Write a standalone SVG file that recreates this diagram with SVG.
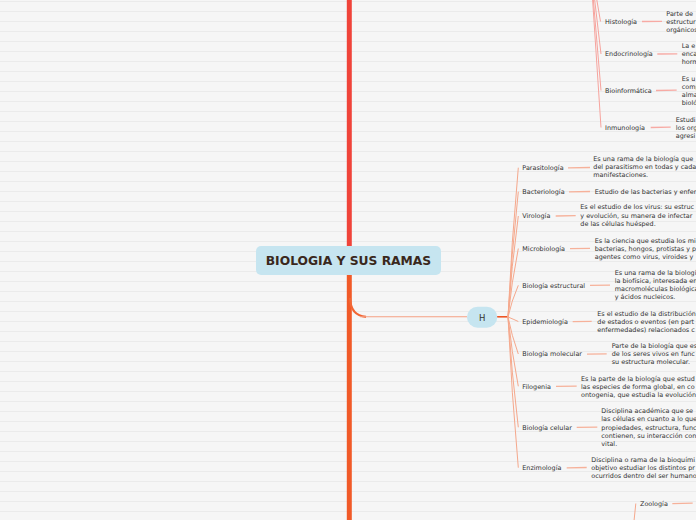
<svg xmlns="http://www.w3.org/2000/svg" width="696" height="520" viewBox="0 0 696 520">
<defs>
<pattern id="grid" x="0" y="1" width="696" height="10" patternUnits="userSpaceOnUse">
<rect x="0" y="0" width="696" height="1" fill="#ebebeb"/>
</pattern>
</defs>
<style>
.t{font-family:"DejaVu Sans",Verdana,sans-serif;font-size:6.45px;fill:#333333}
.root{font-family:"DejaVu Sans",Verdana,sans-serif;font-size:12.3px;font-weight:bold;fill:#3a281c}
.fanr{fill:none;stroke:#f6a39d;stroke-width:1}
.fano{fill:none;stroke:#f5a88c;stroke-width:1}
.lr{fill:none;stroke:#f7aaa4;stroke-width:1.3}
.lo{fill:none;stroke:#f6b19a;stroke-width:1.3}
</style>
<rect width="696" height="520" fill="#f6f6f6"/>
<rect width="696" height="520" fill="url(#grid)"/>
<g id="connectors">
<line x1="349.3" y1="0" x2="349.3" y2="262" stroke="#f0443a" stroke-width="5"/>
<line x1="349.3" y1="262" x2="349.3" y2="520" stroke="#f15a28" stroke-width="5"/>
<path d="M350,298 Q350.5,315.5 366,316.8" fill="none" stroke="#f26634" stroke-width="2.2"/>
<path d="M360,316.8 L467,316.8" fill="none" stroke="#f5a083" stroke-width="1.1"/>
<line x1="497" y1="316.8" x2="508.5" y2="316.8" stroke="#ee5524" stroke-width="1.6"/>
<path class="fanr" d="M590,-40 L600.5,21.5"/>
<path class="fanr" d="M590,-40 L601,54"/>
<path class="fanr" d="M590,-40 L601,90.5"/>
<path class="fanr" d="M590,-40 L601,127.5"/>
<path class="fano" d="M508,317 Q511.5,242 518.3,167.7"/>
<path class="fano" d="M508,317 Q511.5,254 518.3,191.7"/>
<path class="fano" d="M508,317 Q511.5,266 518.3,216"/>
<path class="fano" d="M508,317 Q511.5,283 518.3,248.5"/>
<path class="fano" d="M508,317 Q511.5,301 518.3,285.3"/>
<path class="fano" d="M508,317 Q513,319 518.3,321.5"/>
<path class="fano" d="M508,317 Q511.5,335 518.3,354"/>
<path class="fano" d="M508,317 Q511.5,351 518.3,386.3"/>
<path class="fano" d="M508,317 Q511.5,372 518.3,427.3"/>
<path class="fano" d="M508,317 Q511.5,392 518.3,467.7"/>
<path class="fano" d="M633.5,526 L635.8,503.5"/>
<line class="lr" x1="642" y1="21.5" x2="662" y2="21.3"/>
<line class="lr" x1="657.3" y1="54" x2="677.3" y2="53.8"/>
<line class="lr" x1="656" y1="90.5" x2="676.7" y2="90.2"/>
<line class="lr" x1="650.7" y1="127.5" x2="670.7" y2="127.2"/>
<line class="lo" x1="568" y1="167.8" x2="590" y2="167.5"/>
<line class="lo" x1="569" y1="191.8" x2="590" y2="191.5"/>
<line class="lo" x1="555.7" y1="216" x2="575.7" y2="215.7"/>
<line class="lo" x1="570" y1="248.6" x2="590" y2="248.3"/>
<line class="lo" x1="590" y1="285.4" x2="610" y2="285.1"/>
<line class="lo" x1="572.7" y1="321.6" x2="591.7" y2="321.3"/>
<line class="lo" x1="587" y1="354.2" x2="606.7" y2="353.9"/>
<line class="lo" x1="556" y1="386.4" x2="576.7" y2="386.1"/>
<line class="lo" x1="576.7" y1="427.4" x2="597.3" y2="427.1"/>
<line class="lo" x1="566.7" y1="467.8" x2="586.7" y2="467.5"/>
<line class="lo" x1="672.3" y1="503.6" x2="692.7" y2="503.2"/>
</g>
<g id="root">
<rect x="256" y="246" width="185" height="29" rx="5" fill="#c6e5f0"/>
<text class="root" x="348.5" y="265.3" text-anchor="middle">BIOLOGIA Y SUS RAMAS</text>
</g>
<g id="node-h">
<rect x="467" y="306.7" width="30.3" height="21" rx="10.5" fill="#c6e5f0"/>
<text x="482.2" y="320.5" text-anchor="middle" style="font-family:'DejaVu Sans',Verdana,sans-serif;font-size:8.5px;fill:#333">H</text>
</g>
<g id="histologia">
<text class="t" x="605" y="23.6">Histología</text>
<text class="t" x="666.3" y="16">Parte de</text>
<text class="t" x="666.3" y="23.8">estructur</text>
<text class="t" x="666.3" y="31.6">orgánicos</text>
</g>
<g id="endocrinologia">
<text class="t" x="605" y="56.2">Endocrinología</text>
<text class="t" x="681.7" y="48">La e</text>
<text class="t" x="681.7" y="56">enca</text>
<text class="t" x="681.7" y="64">horm</text>
</g>
<g id="bioinformatica">
<text class="t" x="605" y="92.6">Bioinformática</text>
<text class="t" x="681.7" y="81">Es u</text>
<text class="t" x="681.7" y="89">comp</text>
<text class="t" x="681.7" y="97">alma</text>
<text class="t" x="681.7" y="105">bioló</text>
</g>
<g id="inmunologia">
<text class="t" x="605" y="129.6">Inmunología</text>
<text class="t" x="675.7" y="121.6">Estudi</text>
<text class="t" x="675.7" y="129.6">los org</text>
<text class="t" x="675.7" y="137.6">agresi</text>
</g>
<g id="parasitologia">
<text class="t" x="522.3" y="170">Parasitología</text>
<text class="t" x="593.3" y="161.3">Es una rama de la biología que</text>
<text class="t" x="593.3" y="169.3">del parasitismo en todas y cada</text>
<text class="t" x="593.3" y="177.1">manifestaciones.</text>
</g>
<g id="bacteriologia">
<text class="t" x="522.3" y="194">Bacteriología</text>
<text class="t" x="594.7" y="194">Estudio de las bacterias y enfer</text>
</g>
<g id="virologia">
<text class="t" x="522.3" y="218.2">Virología</text>
<text class="t" x="580.3" y="209.4">Es el estudio de los virus: su estruc</text>
<text class="t" x="580.3" y="217.9">y evolución, su manera de infectar</text>
<text class="t" x="580.3" y="225.9">de las células huésped.</text>
</g>
<g id="microbiologia">
<text class="t" x="522.3" y="250.8">Microbiología</text>
<text class="t" x="594.7" y="242.5">Es la ciencia que estudia los mi</text>
<text class="t" x="594.7" y="250.5">bacterias, hongos, protistas y p</text>
<text class="t" x="594.7" y="258.5">agentes como virus, viroides y</text>
</g>
<g id="biologia-estructural">
<text class="t" x="522.3" y="287.5">Biología estructural</text>
<text class="t" x="614.7" y="275">Es una rama de la biologí</text>
<text class="t" x="614.7" y="283">la biofísica, interesada en</text>
<text class="t" x="614.7" y="291">macromoléculas biológicas</text>
<text class="t" x="614.7" y="299">y ácidos nucleicos.</text>
</g>
<g id="epidemiologia">
<text class="t" x="522.3" y="323.7">Epidemiología</text>
<text class="t" x="597.3" y="315.6">Es el estudio de la distribución</text>
<text class="t" x="597.3" y="323.8">de estados o eventos (en part</text>
<text class="t" x="597.3" y="331.8">enfermedades) relacionados c</text>
</g>
<g id="biologia-molecular">
<text class="t" x="522.3" y="356.3">Biología molecular</text>
<text class="t" x="611.7" y="348">Parte de la biología que es</text>
<text class="t" x="611.7" y="356">de los seres vivos en func</text>
<text class="t" x="611.7" y="364">su estructura molecular.</text>
</g>
<g id="filogenia">
<text class="t" x="522.3" y="388.5">Filogenia</text>
<text class="t" x="581" y="380.5">Es la parte de la biología que estud</text>
<text class="t" x="581" y="388.5">las especies de forma global, en co</text>
<text class="t" x="581" y="396.5">ontogenia, que estudia la evolución</text>
</g>
<g id="biologia-celular">
<text class="t" x="522.3" y="429.5">Biología celular</text>
<text class="t" x="601.3" y="413.3">Disciplina académica que se</text>
<text class="t" x="601.3" y="421.3">las células en cuanto a lo que</text>
<text class="t" x="601.3" y="429.5">propiedades, estructura, func</text>
<text class="t" x="601.3" y="437.5">contienen, su interacción con</text>
<text class="t" x="601.3" y="445.5">vital.</text>
</g>
<g id="enzimologia">
<text class="t" x="522.3" y="470">Enzimología</text>
<text class="t" x="591.3" y="461.7">Disciplina o rama de la bioquími</text>
<text class="t" x="591.3" y="470">objetivo estudiar los distintos pr</text>
<text class="t" x="591.3" y="478">ocurridos dentro del ser humano</text>
</g>
<g id="zoologia">
<text class="t" x="640" y="505.6">Zoología</text>
</g>
</svg>
